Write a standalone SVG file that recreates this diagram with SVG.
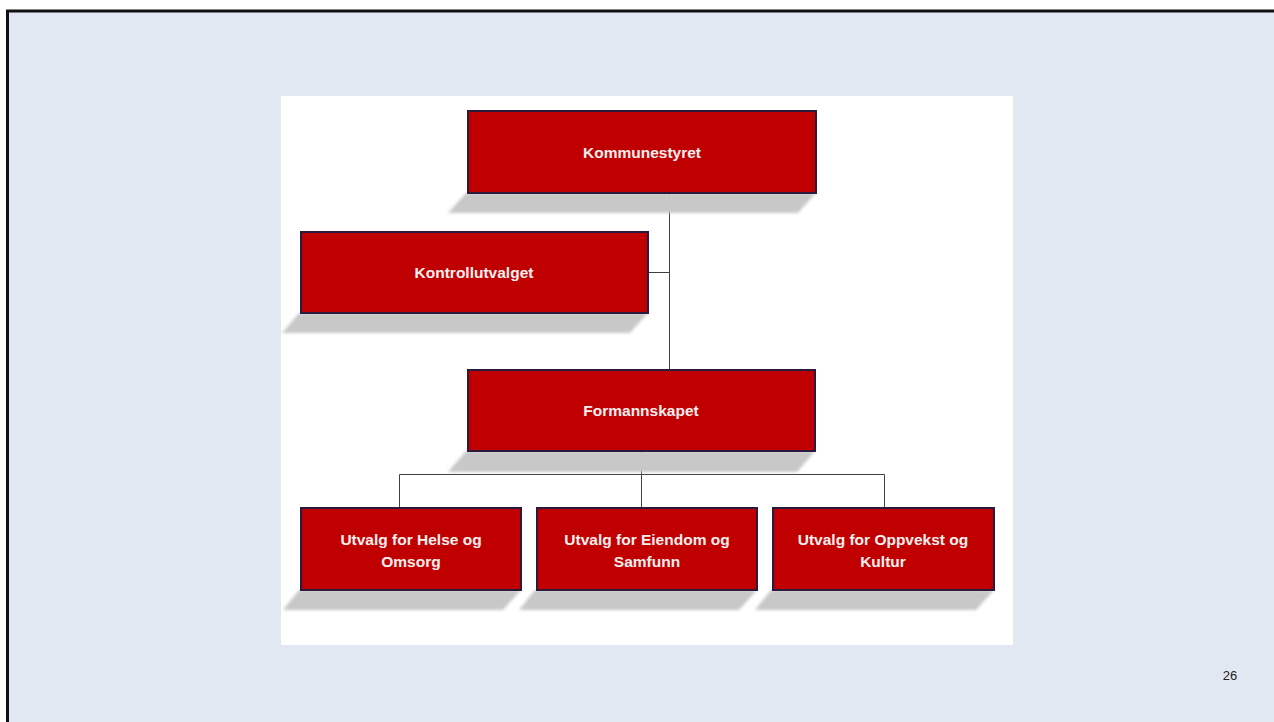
<svg xmlns="http://www.w3.org/2000/svg" width="1274" height="722" viewBox="0 0 1274 722">
<defs>
<style>
.box{fill:#C00000;stroke:#2B1A3C;stroke-width:2}
.lbl{font-family:"Liberation Sans",Arial,sans-serif;font-weight:bold;font-size:15.5px;fill:#FBEFEF;text-anchor:middle}
.shadow{fill:#C8C8C8;filter:url(#blur)}
.conn{stroke:#404040;stroke-width:1;fill:none}
</style>
<filter id="blur" x="-10%" y="-50%" width="120%" height="200%"><feGaussianBlur stdDeviation="1.5"/></filter>
</defs>
<rect x="0" y="0" width="1274" height="722" fill="#FFFFFF"/>
<rect x="7.5" y="11" width="1280" height="720" fill="#E1E8F2" stroke="#111111" stroke-width="3"/>
<rect x="281" y="96" width="732" height="549" fill="#FFFFFF"/>
<g id="connectors">
<path class="conn" d="M669.5 193 V370 M648 272.5 H669.5"/>
<path class="conn" d="M641.5 451 V508 M399.5 474.5 H884.5 M399.5 474.5 V508 M884.5 474.5 V508"/>
</g>
<g id="kommunestyret">
<polygon class="shadow" points="466,193 816,193 798,213 448,213"/>
<rect class="box" x="468" y="111" width="348" height="82"/>
<text class="lbl" x="642" y="158">Kommunestyret</text>
</g>
<g id="kontrollutvalget">
<polygon class="shadow" points="299,313 648,313 630,333 282,333"/>
<rect class="box" x="301" y="232" width="347" height="81"/>
<text class="lbl" x="474" y="278">Kontrollutvalget</text>
</g>
<g id="formannskapet">
<polygon class="shadow" points="466,451 815,451 797,472 448,472"/>
<rect class="box" x="468" y="370" width="347" height="81"/>
<text class="lbl" x="641" y="416">Formannskapet</text>
</g>
<g id="utvalg-helse">
<polygon class="shadow" points="299,590 521,590 503,610 283,610"/>
<rect class="box" x="301" y="508" width="220" height="82"/>
<text class="lbl" x="411" y="545">Utvalg for Helse og</text>
<text class="lbl" x="411" y="567">Omsorg</text>
</g>
<g id="utvalg-eiendom">
<polygon class="shadow" points="535,590 757,590 739,610 519,610"/>
<rect class="box" x="537" y="508" width="220" height="82"/>
<text class="lbl" x="647" y="545">Utvalg for Eiendom og</text>
<text class="lbl" x="647" y="567">Samfunn</text>
</g>
<g id="utvalg-oppvekst">
<polygon class="shadow" points="771,590 994,590 976,610 755,610"/>
<rect class="box" x="773" y="508" width="221" height="82"/>
<text class="lbl" x="883" y="545">Utvalg for Oppvekst og</text>
<text class="lbl" x="883" y="567">Kultur</text>
</g>
<text x="1230" y="680" font-family="Liberation Sans,Arial,sans-serif" font-size="13" fill="#222222" text-anchor="middle">26</text>
</svg>
